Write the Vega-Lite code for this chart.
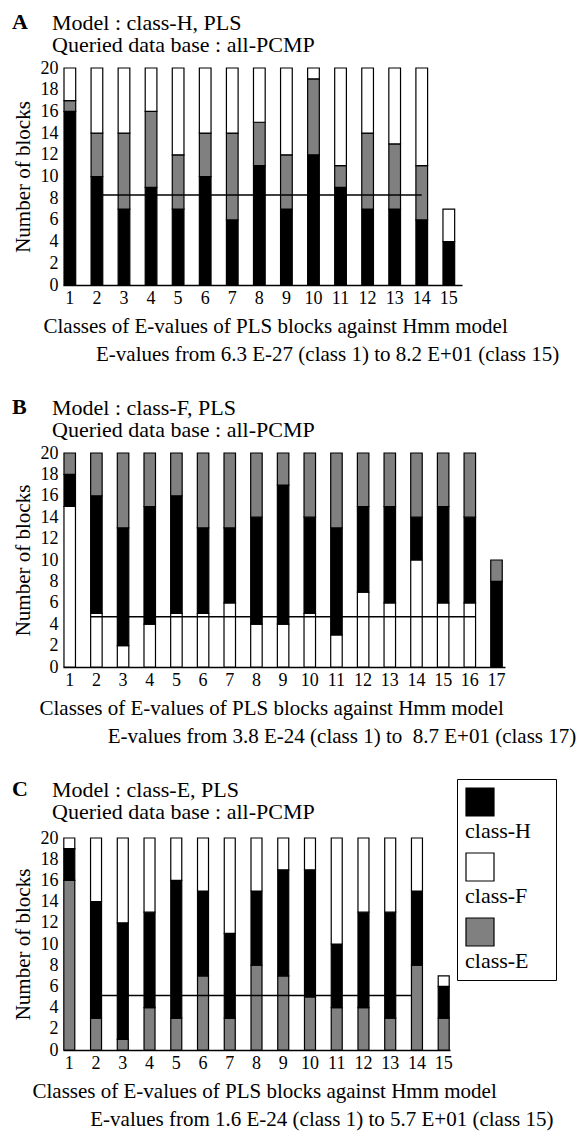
{
  "$schema": "https://vega.github.io/schema/vega-lite/v6.json",
  "padding": {"left": 12, "top": 11, "right": 5, "bottom": 5},
  "spacing": 32,
  "config": {
    "font": "Liberation Serif",
    "view": {"stroke": null},
    "axis": {"labelFont": "Liberation Serif", "titleFont": "Liberation Serif", "labelColor": "black", "titleColor": "black", "titleFontWeight": "normal", "grid": false},
    "axisY": {"title": "Number of blocks", "titleFontSize": 21, "titlePadding": 7, "tickCount": 20, "labelOverlap": false, "labelFontSize": 18, "labelPadding": 5, "domain": false, "ticks": false},
    "legend": {
      "symbolType": "square", "symbolSize": 784, "symbolStrokeColor": "black", "symbolStrokeWidth": 1.2,
      "labelFont": "Liberation Serif", "labelFontSize": 22, "labelColor": "black",
      "labelOffset": -30, "strokeColor": "black", "fillColor": "white", "padding": 8, "rowPadding": 8
    },
    "title": {"font": "Liberation Serif", "color": "black", "fontSize": 22, "anchor": "start"}
  },
  "datasets": {
    "A": [
      {"cls": 1, "type": "class-H", "n": 16, "seg": 1}, {"cls": 1, "type": "class-E", "n": 1, "seg": 2}, {"cls": 1, "type": "class-F", "n": 3, "seg": 3},
      {"cls": 2, "type": "class-H", "n": 10, "seg": 1}, {"cls": 2, "type": "class-E", "n": 4, "seg": 2}, {"cls": 2, "type": "class-F", "n": 6, "seg": 3},
      {"cls": 3, "type": "class-H", "n": 7, "seg": 1}, {"cls": 3, "type": "class-E", "n": 7, "seg": 2}, {"cls": 3, "type": "class-F", "n": 6, "seg": 3},
      {"cls": 4, "type": "class-H", "n": 9, "seg": 1}, {"cls": 4, "type": "class-E", "n": 7, "seg": 2}, {"cls": 4, "type": "class-F", "n": 4, "seg": 3},
      {"cls": 5, "type": "class-H", "n": 7, "seg": 1}, {"cls": 5, "type": "class-E", "n": 5, "seg": 2}, {"cls": 5, "type": "class-F", "n": 8, "seg": 3},
      {"cls": 6, "type": "class-H", "n": 10, "seg": 1}, {"cls": 6, "type": "class-E", "n": 4, "seg": 2}, {"cls": 6, "type": "class-F", "n": 6, "seg": 3},
      {"cls": 7, "type": "class-H", "n": 6, "seg": 1}, {"cls": 7, "type": "class-E", "n": 8, "seg": 2}, {"cls": 7, "type": "class-F", "n": 6, "seg": 3},
      {"cls": 8, "type": "class-H", "n": 11, "seg": 1}, {"cls": 8, "type": "class-E", "n": 4, "seg": 2}, {"cls": 8, "type": "class-F", "n": 5, "seg": 3},
      {"cls": 9, "type": "class-H", "n": 7, "seg": 1}, {"cls": 9, "type": "class-E", "n": 5, "seg": 2}, {"cls": 9, "type": "class-F", "n": 8, "seg": 3},
      {"cls": 10, "type": "class-H", "n": 12, "seg": 1}, {"cls": 10, "type": "class-E", "n": 7, "seg": 2}, {"cls": 10, "type": "class-F", "n": 1, "seg": 3},
      {"cls": 11, "type": "class-H", "n": 9, "seg": 1}, {"cls": 11, "type": "class-E", "n": 2, "seg": 2}, {"cls": 11, "type": "class-F", "n": 9, "seg": 3},
      {"cls": 12, "type": "class-H", "n": 7, "seg": 1}, {"cls": 12, "type": "class-E", "n": 7, "seg": 2}, {"cls": 12, "type": "class-F", "n": 6, "seg": 3},
      {"cls": 13, "type": "class-H", "n": 7, "seg": 1}, {"cls": 13, "type": "class-E", "n": 6, "seg": 2}, {"cls": 13, "type": "class-F", "n": 7, "seg": 3},
      {"cls": 14, "type": "class-H", "n": 6, "seg": 1}, {"cls": 14, "type": "class-E", "n": 5, "seg": 2}, {"cls": 14, "type": "class-F", "n": 9, "seg": 3},
      {"cls": 15, "type": "class-H", "n": 4, "seg": 1}, {"cls": 15, "type": "class-F", "n": 3, "seg": 3}
    ],
    "B": [
      {"cls": 1, "type": "class-F", "n": 15, "seg": 1}, {"cls": 1, "type": "class-H", "n": 3, "seg": 2}, {"cls": 1, "type": "class-E", "n": 2, "seg": 3},
      {"cls": 2, "type": "class-F", "n": 5, "seg": 1}, {"cls": 2, "type": "class-H", "n": 11, "seg": 2}, {"cls": 2, "type": "class-E", "n": 4, "seg": 3},
      {"cls": 3, "type": "class-F", "n": 2, "seg": 1}, {"cls": 3, "type": "class-H", "n": 11, "seg": 2}, {"cls": 3, "type": "class-E", "n": 7, "seg": 3},
      {"cls": 4, "type": "class-F", "n": 4, "seg": 1}, {"cls": 4, "type": "class-H", "n": 11, "seg": 2}, {"cls": 4, "type": "class-E", "n": 5, "seg": 3},
      {"cls": 5, "type": "class-F", "n": 5, "seg": 1}, {"cls": 5, "type": "class-H", "n": 11, "seg": 2}, {"cls": 5, "type": "class-E", "n": 4, "seg": 3},
      {"cls": 6, "type": "class-F", "n": 5, "seg": 1}, {"cls": 6, "type": "class-H", "n": 8, "seg": 2}, {"cls": 6, "type": "class-E", "n": 7, "seg": 3},
      {"cls": 7, "type": "class-F", "n": 6, "seg": 1}, {"cls": 7, "type": "class-H", "n": 7, "seg": 2}, {"cls": 7, "type": "class-E", "n": 7, "seg": 3},
      {"cls": 8, "type": "class-F", "n": 4, "seg": 1}, {"cls": 8, "type": "class-H", "n": 10, "seg": 2}, {"cls": 8, "type": "class-E", "n": 6, "seg": 3},
      {"cls": 9, "type": "class-F", "n": 4, "seg": 1}, {"cls": 9, "type": "class-H", "n": 13, "seg": 2}, {"cls": 9, "type": "class-E", "n": 3, "seg": 3},
      {"cls": 10, "type": "class-F", "n": 5, "seg": 1}, {"cls": 10, "type": "class-H", "n": 9, "seg": 2}, {"cls": 10, "type": "class-E", "n": 6, "seg": 3},
      {"cls": 11, "type": "class-F", "n": 3, "seg": 1}, {"cls": 11, "type": "class-H", "n": 10, "seg": 2}, {"cls": 11, "type": "class-E", "n": 7, "seg": 3},
      {"cls": 12, "type": "class-F", "n": 7, "seg": 1}, {"cls": 12, "type": "class-H", "n": 8, "seg": 2}, {"cls": 12, "type": "class-E", "n": 5, "seg": 3},
      {"cls": 13, "type": "class-F", "n": 6, "seg": 1}, {"cls": 13, "type": "class-H", "n": 9, "seg": 2}, {"cls": 13, "type": "class-E", "n": 5, "seg": 3},
      {"cls": 14, "type": "class-F", "n": 10, "seg": 1}, {"cls": 14, "type": "class-H", "n": 4, "seg": 2}, {"cls": 14, "type": "class-E", "n": 6, "seg": 3},
      {"cls": 15, "type": "class-F", "n": 6, "seg": 1}, {"cls": 15, "type": "class-H", "n": 9, "seg": 2}, {"cls": 15, "type": "class-E", "n": 5, "seg": 3},
      {"cls": 16, "type": "class-F", "n": 6, "seg": 1}, {"cls": 16, "type": "class-H", "n": 8, "seg": 2}, {"cls": 16, "type": "class-E", "n": 6, "seg": 3},
      {"cls": 17, "type": "class-H", "n": 8, "seg": 2}, {"cls": 17, "type": "class-E", "n": 2, "seg": 3}
    ],
    "C": [
      {"cls": 1, "type": "class-E", "n": 16, "seg": 1}, {"cls": 1, "type": "class-H", "n": 3, "seg": 2}, {"cls": 1, "type": "class-F", "n": 1, "seg": 3},
      {"cls": 2, "type": "class-E", "n": 3, "seg": 1}, {"cls": 2, "type": "class-H", "n": 11, "seg": 2}, {"cls": 2, "type": "class-F", "n": 6, "seg": 3},
      {"cls": 3, "type": "class-E", "n": 1, "seg": 1}, {"cls": 3, "type": "class-H", "n": 11, "seg": 2}, {"cls": 3, "type": "class-F", "n": 8, "seg": 3},
      {"cls": 4, "type": "class-E", "n": 4, "seg": 1}, {"cls": 4, "type": "class-H", "n": 9, "seg": 2}, {"cls": 4, "type": "class-F", "n": 7, "seg": 3},
      {"cls": 5, "type": "class-E", "n": 3, "seg": 1}, {"cls": 5, "type": "class-H", "n": 13, "seg": 2}, {"cls": 5, "type": "class-F", "n": 4, "seg": 3},
      {"cls": 6, "type": "class-E", "n": 7, "seg": 1}, {"cls": 6, "type": "class-H", "n": 8, "seg": 2}, {"cls": 6, "type": "class-F", "n": 5, "seg": 3},
      {"cls": 7, "type": "class-E", "n": 3, "seg": 1}, {"cls": 7, "type": "class-H", "n": 8, "seg": 2}, {"cls": 7, "type": "class-F", "n": 9, "seg": 3},
      {"cls": 8, "type": "class-E", "n": 8, "seg": 1}, {"cls": 8, "type": "class-H", "n": 7, "seg": 2}, {"cls": 8, "type": "class-F", "n": 5, "seg": 3},
      {"cls": 9, "type": "class-E", "n": 7, "seg": 1}, {"cls": 9, "type": "class-H", "n": 10, "seg": 2}, {"cls": 9, "type": "class-F", "n": 3, "seg": 3},
      {"cls": 10, "type": "class-E", "n": 5, "seg": 1}, {"cls": 10, "type": "class-H", "n": 12, "seg": 2}, {"cls": 10, "type": "class-F", "n": 3, "seg": 3},
      {"cls": 11, "type": "class-E", "n": 4, "seg": 1}, {"cls": 11, "type": "class-H", "n": 6, "seg": 2}, {"cls": 11, "type": "class-F", "n": 10, "seg": 3},
      {"cls": 12, "type": "class-E", "n": 4, "seg": 1}, {"cls": 12, "type": "class-H", "n": 9, "seg": 2}, {"cls": 12, "type": "class-F", "n": 7, "seg": 3},
      {"cls": 13, "type": "class-E", "n": 3, "seg": 1}, {"cls": 13, "type": "class-H", "n": 10, "seg": 2}, {"cls": 13, "type": "class-F", "n": 7, "seg": 3},
      {"cls": 14, "type": "class-E", "n": 8, "seg": 1}, {"cls": 14, "type": "class-H", "n": 7, "seg": 2}, {"cls": 14, "type": "class-F", "n": 5, "seg": 3},
      {"cls": 15, "type": "class-E", "n": 3, "seg": 1}, {"cls": 15, "type": "class-H", "n": 3, "seg": 2}, {"cls": 15, "type": "class-F", "n": 1, "seg": 3}
    ],
    "lineA": [{"from": 2, "to": 14, "level": 8.3}],
    "lineB": [{"from": 2, "to": 16, "level": 4.7}],
    "lineC": [{"from": 2, "to": 14, "level": 5.15}]
  },
  "vconcat": [
    {
      "title": {"text": "A", "fontWeight": "bold", "offset": -22},
      "vconcat": [
        {
          "width": 399, "height": 217,
          "title": {"text": ["Model : class-H, PLS", "Queried data base : all-PCMP"], "dx": 40, "fontWeight": "normal", "lineHeight": 22, "offset": 2},
          "layer": [
            {
              "data": {"name": "A"},
              "mark": {"type": "bar", "stroke": "black", "strokeWidth": 1.2},
              "encoding": {
                "x": {"field": "cls", "type": "ordinal", "scale": {"paddingInner": 0.568, "paddingOuter": 0.154, "align": 0.12},
                      "axis": {"title": ["Classes of E-values of PLS blocks against Hmm model", "\u200b\u00a0\u00a0\u00a0\u00a0\u00a0\u00a0\u00a0\u00a0\u00a0\u00a0E-values from 6.3 E-27 (class 1) to 8.2 E+01 (class 15)"], "titleFontSize": 21, "titleAlign": "left", "titleAnchor": "start", "titleX": -20, "titleLineHeight": 28, "titlePadding": 8, "labelAngle": 0, "labelFontSize": 18, "labelPadding": 4, "ticks": false, "domainColor": "black", "domainWidth": 1.5}},
                "y": {"field": "n", "type": "quantitative", "stack": "zero", "scale": {"domain": [0, 20]},
                      "axis": {"title": "Number of blocks", "values": [0, 2, 4, 6, 8, 10, 12, 14, 16, 18, 20], "tickCount": 20}},
                "color": {"field": "type", "type": "nominal", "scale": {"domain": ["class-H", "class-F", "class-E"], "range": ["#000000", "#ffffff", "#808080"]},
                          "legend": {"orient": "none", "legendX": 394, "legendY": 711, "title": null, "labelExpr": "datum.label + '\u00a0\u00a0\u00a0\u200b'", "encode": {"labels": {"update": {"dy": {"value": 28.5}}}}}},
                "order": {"field": "seg", "type": "quantitative"}
              }
            },
            {
              "data": {"name": "lineA"},
              "mark": {"type": "rule", "color": "black", "strokeWidth": 1.5},
              "encoding": {
                "x": {"field": "from", "type": "ordinal", "bandPosition": 1},
                "x2": {"field": "to", "bandPosition": 0.5},
                "y": {"field": "level", "type": "quantitative", "axis": {"title": "Number of blocks", "values": [0, 2, 4, 6, 8, 10, 12, 14, 16, 18, 20], "tickCount": 20}}
              }
            }
          ]
        }
      ]
    },
    {
      "title": {"text": "B", "fontWeight": "bold", "offset": -22},
      "vconcat": [
        {
          "width": 442, "height": 214,
          "title": {"text": ["Model : class-F, PLS", "Queried data base : all-PCMP"], "dx": 40, "fontWeight": "normal", "lineHeight": 22, "offset": 2},
          "layer": [
            {
              "data": {"name": "B"},
              "mark": {"type": "bar", "stroke": "black", "strokeWidth": 1.2},
              "encoding": {
                "x": {"field": "cls", "type": "ordinal", "scale": {"paddingInner": 0.569, "paddingOuter": 0.07, "align": 0.26},
                      "axis": {"title": ["Classes of E-values of PLS blocks against Hmm model", "\u200b\u00a0\u00a0\u00a0\u00a0\u00a0\u00a0\u00a0\u00a0\u00a0\u00a0\u00a0\u00a0\u00a0E-values from 3.8 E-24 (class 1) to \u00a08.7 E+01 (class 17)"], "titleFontSize": 21, "titleAlign": "left", "titleAnchor": "start", "titleX": -24, "titleLineHeight": 28, "titlePadding": 8, "labelAngle": 0, "labelFontSize": 18, "labelPadding": 4, "ticks": false, "domainColor": "black", "domainWidth": 1.5}},
                "y": {"field": "n", "type": "quantitative", "stack": "zero", "scale": {"domain": [0, 20]},
                      "axis": {"title": "Number of blocks", "values": [0, 2, 4, 6, 8, 10, 12, 14, 16, 18, 20], "tickCount": 20}},
                "color": {"field": "type", "type": "nominal", "scale": {"domain": ["class-H", "class-F", "class-E"], "range": ["#000000", "#ffffff", "#808080"]},
                          "legend": {"orient": "none", "legendX": 394, "legendY": 711, "title": null, "labelExpr": "datum.label + '\u00a0\u00a0\u00a0\u200b'", "encode": {"labels": {"update": {"dy": {"value": 28.5}}}}}},
                "order": {"field": "seg", "type": "quantitative"}
              }
            },
            {
              "data": {"name": "lineB"},
              "mark": {"type": "rule", "color": "black", "strokeWidth": 1.5},
              "encoding": {
                "x": {"field": "from", "type": "ordinal", "bandPosition": 0},
                "x2": {"field": "to", "bandPosition": 1},
                "y": {"field": "level", "type": "quantitative", "axis": {"title": "Number of blocks", "values": [0, 2, 4, 6, 8, 10, 12, 14, 16, 18, 20], "tickCount": 20}}
              }
            }
          ]
        }
      ]
    },
    {
      "title": {"text": "C", "fontWeight": "bold", "offset": -22},
      "vconcat": [
        {
          "width": 387, "height": 212,
          "title": {"text": ["Model : class-E, PLS", "Queried data base : all-PCMP"], "dx": 40, "fontWeight": "normal", "lineHeight": 22, "offset": 5},
          "layer": [
            {
              "data": {"name": "C"},
              "mark": {"type": "bar", "stroke": "black", "strokeWidth": 1.2},
              "encoding": {
                "x": {"field": "cls", "type": "ordinal", "scale": {"paddingInner": 0.589, "paddingOuter": 0.03, "align": 0.5},
                      "axis": {"title": ["Classes of E-values of PLS blocks against Hmm model", "\u200b\u00a0\u00a0\u00a0\u00a0\u00a0\u00a0\u00a0\u00a0\u00a0\u00a0\u00a0E-values from 1.6 E-24 (class 1) to 5.7 E+01 (class 15)"], "titleFontSize": 21, "titleAlign": "left", "titleAnchor": "start", "titleX": -31, "titleLineHeight": 28, "titlePadding": 8, "labelAngle": 0, "labelFontSize": 18, "labelPadding": 4, "ticks": false, "domainColor": "black", "domainWidth": 1.5}},
                "y": {"field": "n", "type": "quantitative", "stack": "zero", "scale": {"domain": [0, 20]},
                      "axis": {"title": "Number of blocks", "values": [0, 2, 4, 6, 8, 10, 12, 14, 16, 18, 20], "tickCount": 20}},
                "color": {"field": "type", "type": "nominal", "scale": {"domain": ["class-H", "class-F", "class-E"], "range": ["#000000", "#ffffff", "#808080"]},
                          "legend": {"orient": "none", "legendX": 394, "legendY": 711, "title": null, "labelExpr": "datum.label + '\u00a0\u00a0\u00a0\u200b'", "encode": {"labels": {"update": {"dy": {"value": 28.5}}}}}},
                "order": {"field": "seg", "type": "quantitative"}
              }
            },
            {
              "data": {"name": "lineC"},
              "mark": {"type": "rule", "color": "black", "strokeWidth": 1.5},
              "encoding": {
                "x": {"field": "from", "type": "ordinal", "bandPosition": 1},
                "x2": {"field": "to", "bandPosition": 0},
                "y": {"field": "level", "type": "quantitative", "axis": {"title": "Number of blocks", "values": [0, 2, 4, 6, 8, 10, 12, 14, 16, 18, 20], "tickCount": 20}}
              }
            }
          ]
        }
      ]
    }
  ],
  "resolve": {"scale": {"x": "independent", "y": "independent"}}
}
